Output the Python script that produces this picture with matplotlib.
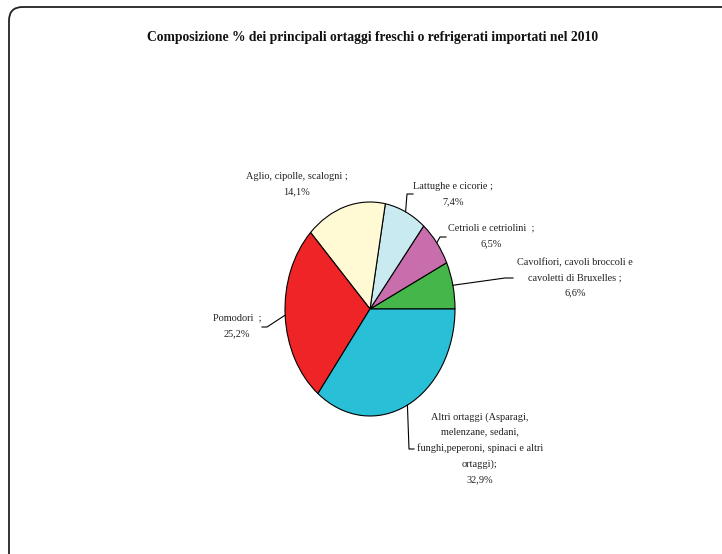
import numpy as np
import matplotlib.pyplot as plt
from matplotlib.patches import FancyBboxPatch

# Dati: composizione % ortaggi importati 2010
categorie = ['Cavolfiori, cavoli broccoli e\ncavoletti di Bruxelles ;',
             'Cetrioli e cetriolini  ;',
             'Lattughe e cicorie ;',
             'Aglio, cipolle, scalogni ;',
             'Pomodori  ;',
             'Altri ortaggi (Asparagi,\nmelenzane, sedani,\nfunghi,peperoni, spinaci e altri\nortaggi);']
valori = [6.6, 6.5, 7.4, 14.1, 25.2, 32.9]
etichette_valori = ['6,6%', '6,5%', '7,4%', '14,1%', '25,2%', '32,9%']
colori = ['#45B649', '#C86EAC', '#C9EAF1', '#FFFAD4', '#EE2426', '#29BFD7']

W, H = 722, 554
CX, CY = 370, 309      # centro della torta in pixel
RX, RY = 85, 107       # semiassi dell'ellisse in pixel


def px(x, y):
    # pixel (dall'alto) -> coordinate dati
    return (x - CX) / RX, (CY - y) / RY


fig = plt.figure(figsize=(W / 100, H / 100), dpi=100)
plt.rcParams['font.family'] = ['Liberation Serif', 'DejaVu Serif']

# cornice arrotondata
cornice = FancyBboxPatch((9 / W, 1 - 7 / H - 1.2), 1.2, 1.2,
                         boxstyle='round,pad=0,rounding_size=0.019',
                         transform=fig.transFigure, fill=False,
                         edgecolor='#222222', linewidth=1.3, mutation_aspect=W / H)
fig.patches.append(cornice)

fig.text(373 / W, 1 - 37 / H,
         'Composizione % dei principali ortaggi freschi o refrigerati importati nel 2010',
         ha='center', va='center', fontsize=9.8, fontweight='bold', color='#111111')

ax = fig.add_axes([0, 0, 1, 1])
wedges, _ = ax.pie(valori, colors=colori, startangle=0, counterclock=True,
                   radius=1, center=(0, 0),
                   wedgeprops=dict(edgecolor='black', linewidth=0.8))
ax.set_aspect('auto')
ax.set_xlim(-CX / RX, (W - CX) / RX)
ax.set_ylim(-(H - CY) / RY, CY / RY)
ax.axis('off')

# posizione testi (pixel) e linee guida (gomito, fine) in pixel
pos_testo = [(575, 278), (491, 236), (453, 194), (297, 184), (237, 326), (480, 448)]
guide = [((505, 278), (513, 278)),
         ((440, 237), (446, 237)),
         ((407, 194), (413, 194)),
         None,
         ((267, 327), (262, 327)),
         ((409, 449), (414, 449))]

for w, cat, val, pt, g in zip(wedges, categorie, etichette_valori, pos_testo, guide):
    tx, ty = px(*pt)
    ax.text(tx, ty, cat + '\n' + val, ha='center', va='center',
            fontsize=7.4, linespacing=1.85, color='#222222')
    if g is not None:
        ang = np.deg2rad((w.theta1 + w.theta2) / 2)
        x0, y0 = np.cos(ang), np.sin(ang)
        x1, y1 = px(*g[0])
        x2, y2 = px(*g[1])
        ax.plot([x0, x1, x2], [y0, y1, y2], color='black', linewidth=0.8)

fig.savefig('out.png', dpi=100)
